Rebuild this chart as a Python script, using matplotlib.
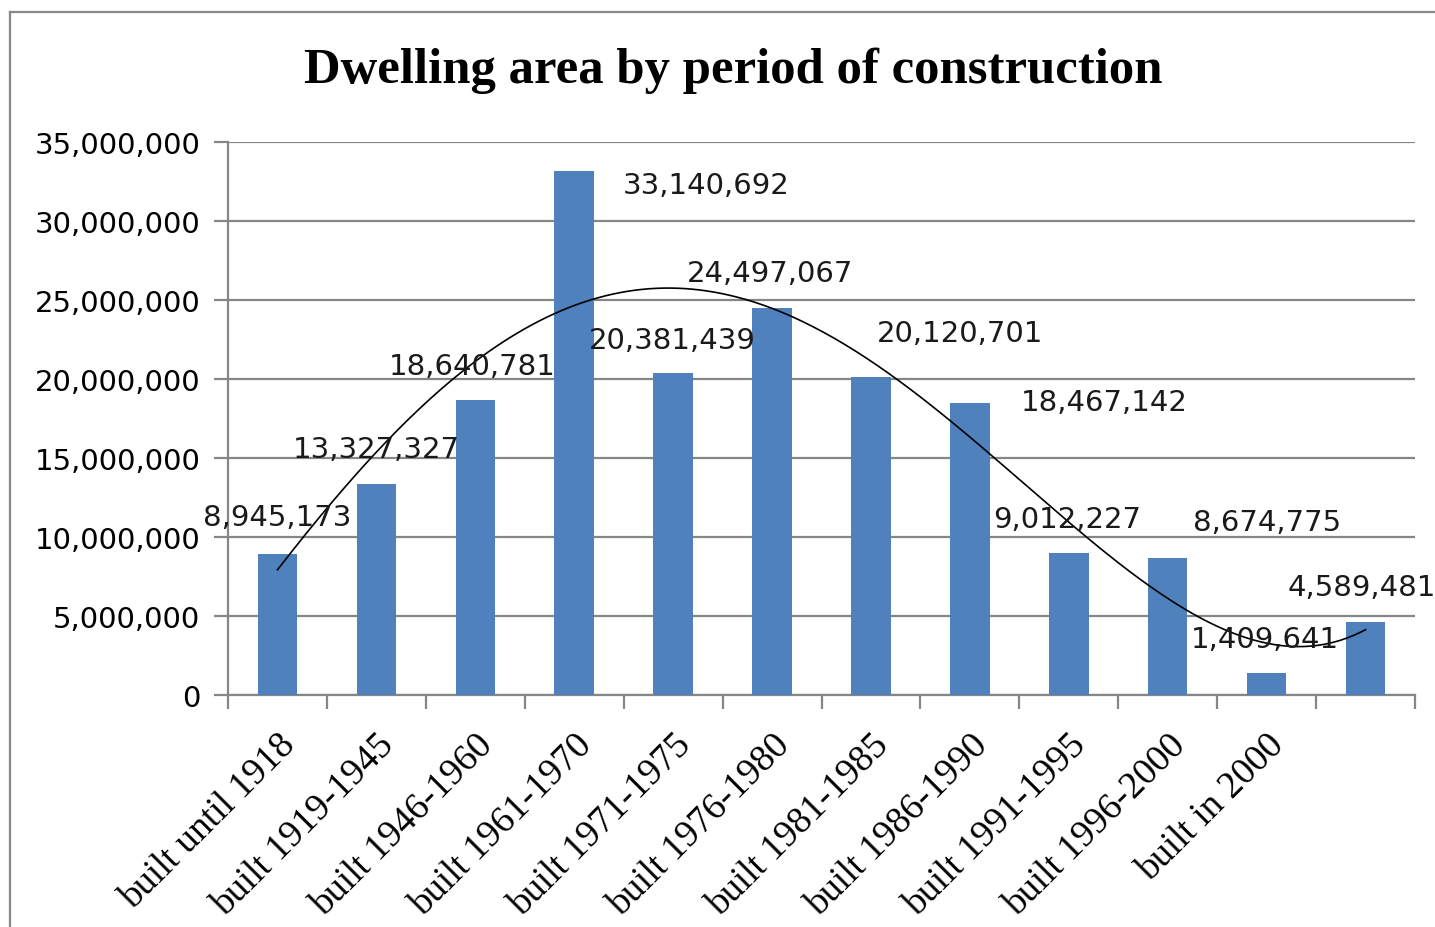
import matplotlib
matplotlib.use("Agg")
import matplotlib.pyplot as plt
import numpy as np
from matplotlib.ticker import FuncFormatter, FixedLocator
from matplotlib.lines import Line2D

title = "Dwelling area by period of construction"
categories = ["built until 1918", "built 1919-1945", "built 1946-1960", "built 1961-1970",
              "built 1971-1975", "built 1976-1980", "built 1981-1985", "built 1986-1990",
              "built 1991-1995", "built 1996-2000", "built in 2000", ""]
values = [8945173, 13327327, 18640781, 33140692, 20381439, 24497067,
          20120701, 18467142, 9012227, 8674775, 1409641, 4589481]
# label placement (category index, y value) as seen in the reference
label_x = [0.0, 1.0, 1.97, 4.33, 3.99, 4.98, 6.90, 8.36, 7.98, 10.0, 9.98, 10.96]
label_y = [11.25e6, 15.54e6, 20.85e6, 32.28e6, 22.49e6, 26.72e6,
           22.93e6, 18.57e6, 11.12e6, 10.93e6, 3.54e6, 6.82e6]

fig = plt.figure(figsize=(14.35, 9.28), dpi=100)
ax = fig.add_axes([228/1435, 1-696/928, (1415-228)/1435, (696-143)/928])

x = np.arange(len(values))
ax.bar(x, values, width=0.4, color="#4F81BD", zorder=3)

# polynomial (order 4) trendline fitted to the data
coef = np.polyfit(x + 1, values, 4)
xs = np.linspace(0, len(values) - 1, 300)
ax.plot(xs, np.polyval(coef, xs + 1), color="black", lw=1.2, zorder=4)

sans = "DejaVu Sans"
for lx, ly, v in zip(label_x, label_y, values):
    ax.text(lx, ly, f"{v:,}", ha="center", va="center", fontsize=21,
            family=sans, color="#1a1a1a", zorder=5, clip_on=False)

ax.set_xlim(-0.5, len(values) - 0.5)
ax.set_ylim(0, 35e6)
ax.set_yticks(np.arange(0, 35e6 + 1, 5e6))
ax.yaxis.set_major_formatter(FuncFormatter(lambda v, p: f"{int(v):,}"))
ax.grid(axis="y", color="#868686", lw=1.6, zorder=0)
ax.set_axisbelow(True)

ax.set_xticks(x)
ax.set_xticklabels(categories, rotation=45, ha="right", rotation_mode="anchor",
                   family="Liberation Serif", fontsize=27)
ax.xaxis.set_minor_locator(FixedLocator(np.arange(-0.5, len(values), 1.0)))
ax.tick_params(axis="x", which="major", length=0, pad=23)
ax.tick_params(axis="x", which="minor", length=10, color="#868686", width=1.6)
ax.tick_params(axis="y", length=10, color="#868686", width=1.6, pad=10, labelsize=21)
for lab in ax.get_yticklabels():
    lab.set_family(sans)

for s in ["top", "right"]:
    ax.spines[s].set_visible(False)
for s in ["left", "bottom"]:
    ax.spines[s].set_color("#868686")
    ax.spines[s].set_linewidth(1.6)

fig.text(733/1435, 1-71/928, title, ha="center", va="center",
         family="Liberation Serif", fontweight="bold", fontsize=36.5)

# outer chart border
fig.add_artist(Line2D([10/1435, 1], [1-13/928, 1-13/928], color="#888888", lw=1.6,
                      transform=fig.transFigure))
fig.add_artist(Line2D([10/1435, 10/1435], [0, 1-13/928], color="#888888", lw=1.6,
                      transform=fig.transFigure))

fig.savefig("out.png", dpi=100)
